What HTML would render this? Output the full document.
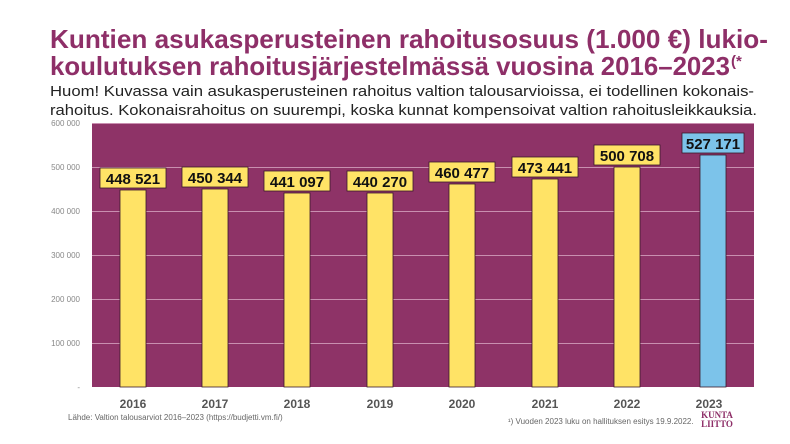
<!DOCTYPE html>
<html><head><meta charset="utf-8"><style>
body{margin:0;background:#fff;width:790px;height:444px;overflow:hidden}
svg{display:block;font-family:"Liberation Sans",sans-serif}
</style></head><body>
<svg width="790" height="444" viewBox="0 0 790 444">
<text x="50" y="48" font-size="26" font-weight="bold" fill="#8e2f68" textLength="718" lengthAdjust="spacingAndGlyphs">Kuntien asukasperusteinen rahoitusosuus (1.000 €) lukio-</text>
<text x="50" y="75" font-size="26" font-weight="bold" fill="#8e2f68" textLength="680" lengthAdjust="spacingAndGlyphs">koulutuksen rahoitusjärjestelmässä vuosina 2016–2023</text>
<text x="731" y="66" font-size="15" font-weight="bold" fill="#8e2f68">(*</text>
<text x="50" y="96" font-size="15" fill="#222" textLength="704" lengthAdjust="spacingAndGlyphs">Huom! Kuvassa vain asukasperusteinen rahoitus valtion talousarvioissa, ei todellinen kokonais-</text>
<text x="50" y="115" font-size="15" fill="#222" textLength="707" lengthAdjust="spacingAndGlyphs">rahoitus. Kokonaisrahoitus on suurempi, koska kunnat kompensoivat valtion rahoitusleikkauksia.</text>
<rect x="92" y="123" width="662" height="264" fill="#8e3367"/>
<g stroke="#c98fb0" stroke-width="1">
<line x1="92" y1="123.5" x2="754" y2="123.5"/>
<line x1="92" y1="167.5" x2="754" y2="167.5"/>
<line x1="92" y1="211.5" x2="754" y2="211.5"/>
<line x1="92" y1="255.5" x2="754" y2="255.5"/>
<line x1="92" y1="299.5" x2="754" y2="299.5"/>
<line x1="92" y1="343.5" x2="754" y2="343.5"/>
</g>
<g font-size="8" fill="#888" text-anchor="end">
<text x="80" y="126">600 000</text><text x="80" y="170">500 000</text><text x="80" y="214">400 000</text>
<text x="80" y="258">300 000</text><text x="80" y="302">200 000</text><text x="80" y="346">100 000</text><text x="80" y="390">-</text>
</g>
<g stroke="#3a1a2a" stroke-width="0.8" font-size="15" font-weight="bold" text-anchor="middle">
<rect x="120" y="190" width="26" height="197" fill="#ffe366"/>
<rect x="100" y="168" width="66" height="20" fill="#ffe366"/>
<rect x="202" y="189" width="26" height="198" fill="#ffe366"/>
<rect x="182" y="167" width="66" height="20" fill="#ffe366"/>
<rect x="284" y="193" width="26" height="194" fill="#ffe366"/>
<rect x="264" y="171" width="66" height="20" fill="#ffe366"/>
<rect x="367" y="193" width="26" height="194" fill="#ffe366"/>
<rect x="347" y="171" width="66" height="20" fill="#ffe366"/>
<rect x="449" y="184" width="26" height="203" fill="#ffe366"/>
<rect x="429" y="162" width="66" height="20" fill="#ffe366"/>
<rect x="532" y="179" width="26" height="208" fill="#ffe366"/>
<rect x="512" y="157" width="66" height="20" fill="#ffe366"/>
<rect x="614" y="167" width="26" height="220" fill="#ffe366"/>
<rect x="594" y="145" width="66" height="20" fill="#ffe366"/>
<rect x="700" y="155" width="26" height="232" fill="#7cc3ea"/>
<rect x="682" y="133" width="62" height="20" fill="#7cc3ea"/>
</g>
<g font-size="15" font-weight="bold" fill="#111" text-anchor="middle">
<text x="133" y="184">448 521</text><text x="215" y="183">450 344</text><text x="297" y="187">441 097</text>
<text x="380" y="187">440 270</text><text x="462" y="178">460 477</text><text x="545" y="173">473 441</text>
<text x="627" y="161">500 708</text><text x="713" y="149">527 171</text>
</g>
<g font-size="12" font-weight="bold" fill="#555" text-anchor="middle">
<text x="133" y="408">2016</text><text x="215" y="408">2017</text><text x="297" y="408">2018</text><text x="380" y="408">2019</text>
<text x="462" y="408">2020</text><text x="545" y="408">2021</text><text x="627" y="408">2022</text><text x="709" y="408">2023</text>
</g>
<text x="68" y="420" font-size="8" fill="#666">Lähde: Valtion talousarviot 2016–2023 (https://budjetti.vm.fi/)</text>
<text x="508" y="424" font-size="8" fill="#666">¹) Vuoden 2023 luku on hallituksen esitys 19.9.2022.</text>
<text x="717" y="418" font-size="9" font-weight="bold" fill="#8e2f68" text-anchor="middle" font-family="Liberation Serif,serif">KUNTA</text>
<text x="717" y="427" font-size="9" font-weight="bold" fill="#8e2f68" text-anchor="middle" font-family="Liberation Serif,serif">LIITTO</text>
</svg>
</body></html>
